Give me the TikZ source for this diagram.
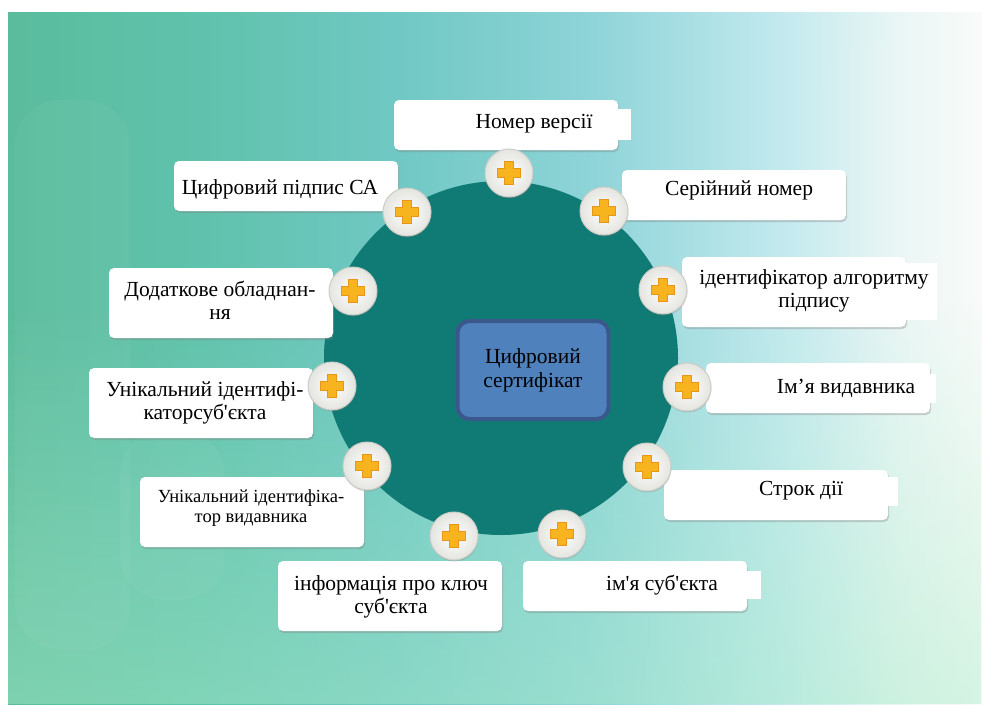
\documentclass[tikz,border=0pt]{standalone}
\usepackage{fontspec}
\setmainfont{Liberation Serif}
\usetikzlibrary{shadows,fadings}
\definecolor{DiscTeal}{RGB}{16,122,116}
\definecolor{HubBlue}{RGB}{79,129,189}
\definecolor{HubEdge}{RGB}{58,88,140}
\definecolor{PlusGold}{RGB}{247,180,30}
\definecolor{PlusEdge}{RGB}{230,150,24}
\definecolor{BtnRing}{RGB}{205,205,200}
\definecolor{BtnEdge}{RGB}{228,228,224}
\definecolor{BgA}{RGB}{90,188,156}
\definecolor{BgB}{RGB}{96,194,172}
\definecolor{BgC}{RGB}{112,200,196}
\definecolor{BgD}{RGB}{142,212,216}
\definecolor{BgE}{RGB}{194,233,238}
\definecolor{BgF}{RGB}{234,246,245}
\definecolor{BgG}{RGB}{249,251,249}
\definecolor{BgLow}{RGB}{170,236,200}
\pgfdeclarehorizontalshading{bgshade}{100bp}{color(0bp)=(BgA); color(25bp)=(BgA); color(35bp)=(BgB); color(45bp)=(BgC); color(55bp)=(BgD); color(64.6bp)=(BgE); color(70.8bp)=(BgF); color(75bp)=(BgG); color(100bp)=(BgG)}
\newcommand\apos{\textquotesingle}
\tikzset{
  card/.style={rectangle,rounded corners=5pt,fill=white,minimum width=224pt,inner sep=0pt,drop shadow={shadow xshift=1pt,shadow yshift=-2pt,opacity=.35}},
  cardText/.style={fill=white,inner sep=1pt,align=center,text=black,font=\rmfamily\fontsize{21.5}{23}\selectfont,minimum height=29pt},
  smallText/.style={cardText,font=\rmfamily\fontsize{18.5}{19.5}\selectfont},
  hub/.style={rectangle,rounded corners=12pt,fill=HubBlue,draw=HubEdge,line width=4pt,minimum width=151pt,minimum height=98pt,align=center,text=black,font=\rmfamily\fontsize{21.5}{24}\selectfont},
  plusBtn/.style={circle,minimum size=48pt,inner sep=0pt,draw=BtnRing,line width=1pt,inner color=white,outer color=BtnEdge,
    drop shadow={shadow xshift=.5pt,shadow yshift=-1.5pt,opacity=.3},
    path picture={\fill[PlusGold,draw=PlusEdge,line width=.5pt] (path picture bounding box.center) ++(-4.5,-11.5) -- ++(9,0) -- ++(0,7) -- ++(7,0) -- ++(0,9) -- ++(-7,0) -- ++(0,7) -- ++(-9,0) -- ++(0,-7) -- ++(-7,0) -- ++(0,-9) -- ++(7,0) -- cycle;}}
}
\begin{document}
\begin{tikzpicture}[x=1pt,y=-1pt]
  \useasboundingbox (0,0) rectangle (982,704);
  % backdrop
  \shade[shading=bgshade] (8,12) rectangle (982,704);
  \fill[BgLow,path fading=north,opacity=.45] (8,300) rectangle (982,704);
  \foreach \xa/\ya/\xb/\yb in {15/100/130/650,820/45/935/330,120/430/225/600}{
    \fill[white,opacity=.04,rounded corners=45pt] (\xa,\ya) rectangle (\xb,\yb);
  }
  \node[circle,fill=DiscTeal,minimum size=354pt,inner sep=0pt] (disc) at (501,358) {};
  \node[hub] (cert) at (533,370) {Цифровий\\сертифікат};
  % cards
  \foreach \n/\x/\y/\h in {ver/506/125/50,ser/734/195/50,alg/794/292/70,iss/818/388/50,val/776/495/50,subj/635/586/50,key/390/596/70,uiss/252/512/70,usub/201/403/70,ext/221/303/70,sig/286/186/50}{
    \node[card,minimum height=\h pt] (\n) at (\x,\y) {};
  }
  \node[cardText,minimum width=194pt,minimum height=31pt] (verT) at (534,124) {Номер версії};
  \node[cardText] (serT) at (739,190) {Серійний номер};
  \node[cardText,minimum width=246pt,minimum height=57pt] (algT) at (814,291) {ідентифікатор алгоритму\\підпису};
  \node[cardText,minimum width=180pt] (issT) at (846,388) {Ім’я видавника};
  \node[cardText,minimum width=194pt] (valT) at (801,491) {Строк дії};
  \node[cardText,minimum width=198pt,minimum height=28pt] (subjT) at (662,585) {ім\apos я суб\apos єкта};
  \node[cardText] (keyT) at (391,597) {інформація про ключ\\суб\apos єкта};
  \node[smallText] (uissT) at (251,508) {Унікальний ідентифіка-\\тор видавника};
  \node[cardText] (usubT) at (205,403) {Унікальний ідентифі-\\каторсуб\apos єкта};
  \node[cardText] (extT) at (220,300) {Додаткове обладнан-\\ня};
  \node[cardText] (sigT) at (280,189) {Цифровий підпис СА};
  % buttons
  \foreach \i/\x/\y in {1/509/173,2/604/211,3/663/290,4/687/387,5/647/467,6/562/534,7/454/536,8/367/466,9/332/386,10/353/291,11/407/212}{
    \node[plusBtn] (b\i) at (\x,\y) {};
  }
\end{tikzpicture}
\end{document}
